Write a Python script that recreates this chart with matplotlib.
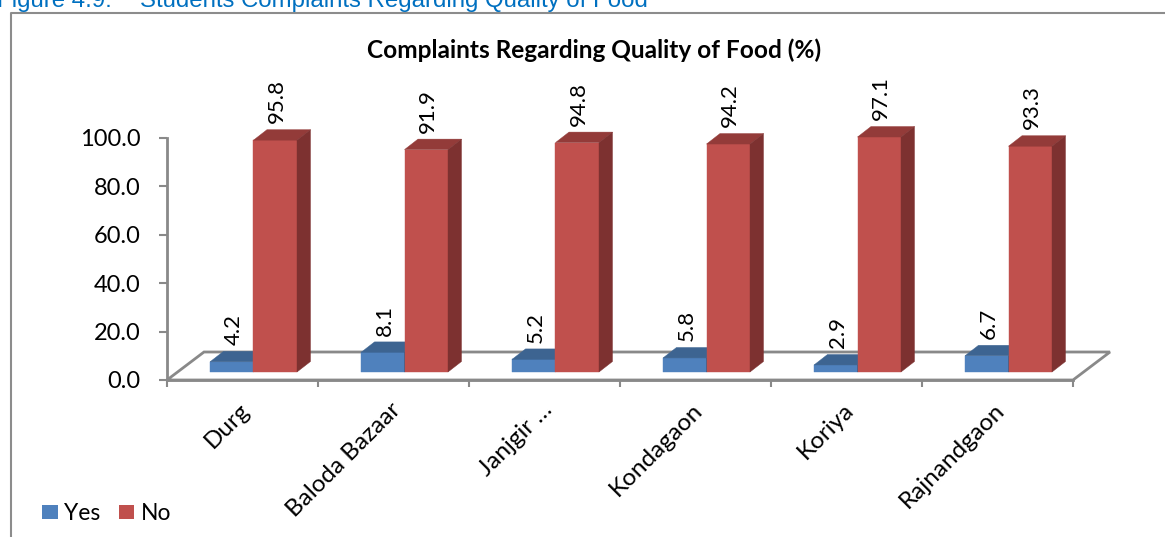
import numpy as np
import matplotlib
matplotlib.use("Agg")
import matplotlib.pyplot as plt
from matplotlib.patches import Polygon, Patch
from matplotlib.lines import Line2D
from matplotlib.transforms import ScaledTranslation

districts = ["Durg", "Baloda Bazaar", "Janjgir \u2026", "Kondagaon", "Koriya", "Rajnandgaon"]
yes = [4.2, 8.1, 5.2, 5.8, 2.9, 6.7]
no = [95.8, 91.9, 94.8, 94.2, 97.1, 93.3]
yticks = [0, 20, 40, 60, 80, 100]

W, H = 1165, 537
plt.rcParams["font.family"] = ["Lato", "DejaVu Sans"]

fig = plt.figure(figsize=(W / 100, H / 100), dpi=100)
ax = fig.add_axes([167 / W, (H - 380) / H, 906 / W, 242 / H])
n = len(districts)
ax.set_xlim(0, n)
ax.set_ylim(0, 100)

# pixel -> data helpers
sx = 906 / n
sy = 242 / 100

gray = "#898989"
for s in ["top", "right"]:
    ax.spines[s].set_visible(False)
for s in ["left", "bottom"]:
    ax.spines[s].set_color(gray)
    ax.spines[s].set_linewidth(2)
    ax.spines[s].set_zorder(3)

# floor (3d base)
fdx, fdy = 37 / sx, 28 / sy
floor = Polygon([(0, 0), (n, 0), (n + fdx, fdy), (fdx, fdy)], closed=True,
                facecolor="white", edgecolor=gray, lw=2, clip_on=False, zorder=1)
ax.add_patch(floor)

# bars
ddx, ddy = 13.5 / sx, 10.5 / sy
base = 8 / sy
bw = 43.5 / sx
off = 43 / sx


def box(x0, w, h, front, top, side):
    ax.add_patch(Polygon([(x0, base), (x0 + w, base), (x0 + w, base + h), (x0, base + h)],
                         facecolor=front, edgecolor=front, lw=0.3, clip_on=False, zorder=4))
    ax.add_patch(Polygon([(x0, base + h), (x0 + w, base + h), (x0 + w + ddx, base + h + ddy),
                          (x0 + ddx, base + h + ddy)],
                         facecolor=top, edgecolor=top, lw=0.3, clip_on=False, zorder=4))
    ax.add_patch(Polygon([(x0 + w, base), (x0 + w + ddx, base + ddy), (x0 + w + ddx, base + h + ddy),
                          (x0 + w, base + h)],
                         facecolor=side, edgecolor=side, lw=0.3, clip_on=False, zorder=4))
    ax.text(x0 + w / 2 + 2 / sx, base + h + ddy + 2.6, f"{h:.1f}", rotation=90,
            ha="center", va="bottom", fontsize=16, color="black", zorder=5)


for i in range(n):
    box(i + off, bw, yes[i], "#4F81BD", "#3D6491", "#34577F")
    box(i + off + bw, bw, no[i], "#C0504D", "#933B39", "#7D3130")

# axes ticks
ax.set_yticks(yticks)
ax.set_yticklabels([f"{v:.1f}" for v in yticks])
ax.tick_params(axis="y", length=6, width=1.5, color=gray, pad=13, labelsize=17)
ax.set_xticks(range(n + 1))
ax.set_xticklabels([])
ax.tick_params(axis="x", which="major", length=5, width=1.5, color=gray)
ax.set_xticks(np.arange(n) + 0.5, minor=True)
ax.set_xticklabels(districts, minor=True)
ax.tick_params(axis="x", which="minor", length=0, pad=19, labelsize=17.5)
shift = ScaledTranslation(4 / 100, 0, fig.dpi_scale_trans)
for lab in ax.get_xticklabels(minor=True):
    lab.set_rotation(45)
    lab.set_ha("right")
    lab.set_va("center")
    lab.set_rotation_mode("anchor")
    lab.set_transform(lab.get_transform() + shift)

# title
fig.text(594 / W, 1 - 50 / H, "Complaints Regarding Quality of Food (%)",
         ha="center", va="center", fontsize=17.6, fontweight="bold")

# legend
handles = [Patch(facecolor="#4F81BD"), Patch(facecolor="#C0504D")]
fig.legend(handles, ["Yes", "No"], loc="center left", bbox_to_anchor=(42 / W, 1 - 514 / H),
           ncol=2, frameon=False, fontsize=16.5, handlelength=0.68, handleheight=0.55,
           handletextpad=0.28, columnspacing=0.8, borderaxespad=0, borderpad=0)

# chart border and caption
fig.add_artist(Line2D([10.5 / W, 10.5 / W, 1], [0, 1 - 13 / H, 1 - 13 / H],
                      color="#8C8C8C", lw=1.5, transform=fig.transFigure))
fig.text(112 / W, 1 - 7 / H, "Figure 4.9:", ha="right", va="baseline", fontsize=17.3,
         color="#0070C0", family="Liberation Sans")
fig.text(140 / W, 1 - 7 / H, "Students Complaints Regarding Quality of Food", ha="left",
         va="baseline", fontsize=17.3, color="#0070C0", family="Liberation Sans")

fig.savefig("out.png", dpi=100)
